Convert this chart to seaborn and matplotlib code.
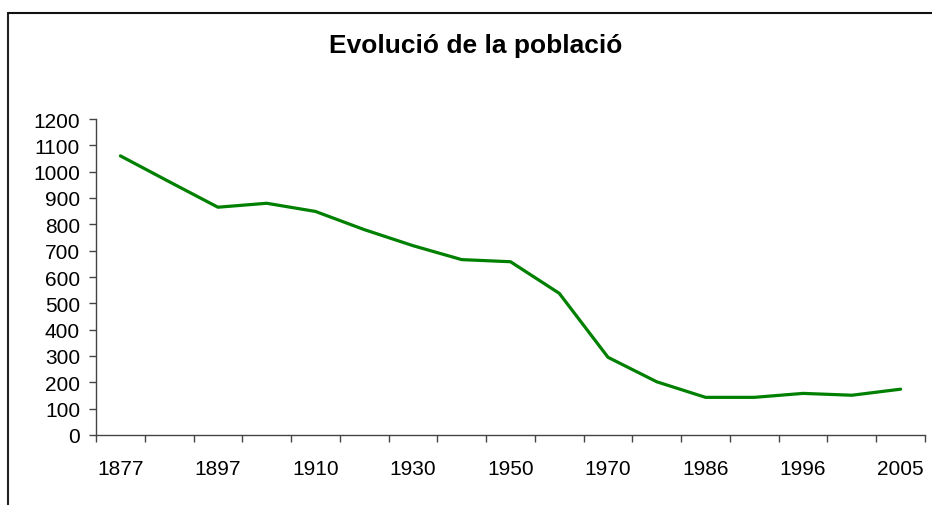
import matplotlib
matplotlib.use("Agg")
import matplotlib.pyplot as plt
import seaborn as sns
import pandas as pd
from matplotlib.lines import Line2D

years = ["1877", "1887", "1897", "1900", "1910", "1920", "1930", "1940", "1950",
         "1960", "1970", "1981", "1986", "1991", "1996", "2001", "2005"]
population = [1060, 962, 865, 880, 849, 780, 719, 666, 658, 538, 295, 202, 143, 143, 158, 151, 174]
y_ticks = [0, 100, 200, 300, 400, 500, 600, 700, 800, 900, 1000, 1100, 1200]

sns.set_theme(style="white")
plt.rcParams['font.family'] = ['Liberation Sans', 'DejaVu Sans']

df = pd.DataFrame({"idx": range(len(years)), "year": years, "pop": population})

fig = plt.figure(figsize=(9.32, 5.06), dpi=100)
ax = fig.add_axes([96/932, 1-436/506, (925-96)/932, (436-120)/506])

sns.lineplot(data=df, x="idx", y="pop", ax=ax, color="#008000", linewidth=2.3)

ax.set_xlim(-0.5, len(years) - 0.5)
ax.set_ylim(0, 1200)
ax.set_yticks(y_ticks)
ax.set_yticklabels([str(v) for v in y_ticks], fontsize=15, color="black")

# major ticks at category boundaries, labels on every other category
ax.set_xticks([i - 0.5 for i in range(len(years) + 1)])
ax.set_xticklabels([])
ax.set_xticks(list(range(0, len(years), 2)), minor=True)
ax.set_xticklabels([years[i] for i in range(0, len(years), 2)], minor=True, fontsize=15, color="black")
ax.tick_params(axis="x", which="major", length=5, width=1, color="#444444", direction="out", bottom=True)
ax.tick_params(axis="x", which="minor", length=0, pad=17, bottom=True)
ax.tick_params(axis="y", which="major", length=5, width=1, color="#444444", direction="out", left=True, pad=6.5)

for s in ["top", "right"]:
    ax.spines[s].set_visible(False)
for s in ["left", "bottom"]:
    ax.spines[s].set_color("#444444")
    ax.spines[s].set_linewidth(1)

ax.set_xlabel("")
ax.set_ylabel("")
ax.grid(False)

fig.text(476/932, 1-46/506, "Evolució de la població", ha="center", va="center",
         fontsize=19, fontweight="bold", color="black")

# outer chart frame (top and left edges visible)
fig.add_artist(Line2D([8/932, 8/932], [0, 1-14/506], transform=fig.transFigure, color="#222222", linewidth=1.5))
fig.add_artist(Line2D([8/932, 1.0], [1-14/506, 1-14/506], transform=fig.transFigure, color="#111111", linewidth=1.5))

fig.savefig("out.png", dpi=100)
